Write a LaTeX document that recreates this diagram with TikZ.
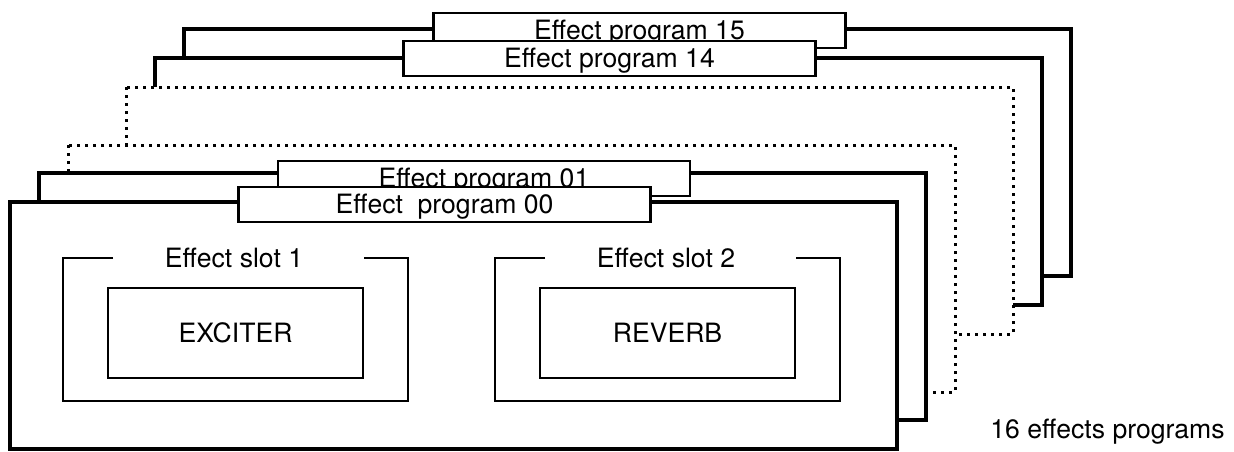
\documentclass[tikz,border=0pt]{standalone}
\usepackage{fontspec}
\setmainfont{TeX Gyre Heros}
\begin{document}
\begin{tikzpicture}[x=.5pt,y=-.5pt,font=\fontsize{13.3pt}{15pt}\selectfont,
  progframe/.style={line width=2pt,fill=white},
  dotframe/.style={line width=1.5pt,dash pattern=on 1.5pt off 2.5pt,fill=white},
  progbox/.style={draw,fill=white,line width=1.1pt,minimum width=206pt,minimum height=17.5pt,
    inner sep=0pt,text height=9.4pt,text depth=0pt},
  slotline/.style={line width=1.3pt},
  fxbox/.style={draw,line width=.85pt,minimum width=127.5pt,minimum height=45pt,inner sep=0pt},
  slotlabel/.style={inner sep=0pt,text height=9.4pt,text depth=0pt}]
  \useasboundingbox (0,0) rectangle (1234,451);
  % stacked programs, back to front
  \draw[progframe] (184,29) rectangle (1071,276);
  \node[progbox] (p15) at (639.5,30.5) {Effect program 15};
  \draw[progframe] (155,58) rectangle (1042,305);
  \node[progbox] (p14) at (609.5,58.5) {Effect program 14};
  \draw[dotframe] (126,87) rectangle (1013,334);
  \draw[dotframe] (68,145) rectangle (955,392);
  \draw[progframe] (39,173) rectangle (926,420);
  \node[progbox] (p01) at (484,178.5) {Effect program 01};
  \draw[progframe] (10,202) rectangle (897,449);
  \node[progbox] (p00) at (444.5,204.5) {Effect\hspace{.55em}program 00};
  % effect slots
  \node[slotlabel] (slot1) at (234,258) {Effect slot 1};
  \draw[slotline] (113,258) -| (63,401) -| (408,258) -- (364,258);
  \node[fxbox] (exciter) at (235.5,333) {EXCITER};
  \node[slotlabel] (slot2) at (666,258) {Effect slot 2};
  \draw[slotline] (545,258) -| (495,401) -| (840,258) -- (796,258);
  \node[fxbox] (reverb) at (667.5,333) {REVERB};
  \node[anchor=base west,inner sep=0pt] (count) at (990,438) {16 effects programs};
\end{tikzpicture}
\end{document}
